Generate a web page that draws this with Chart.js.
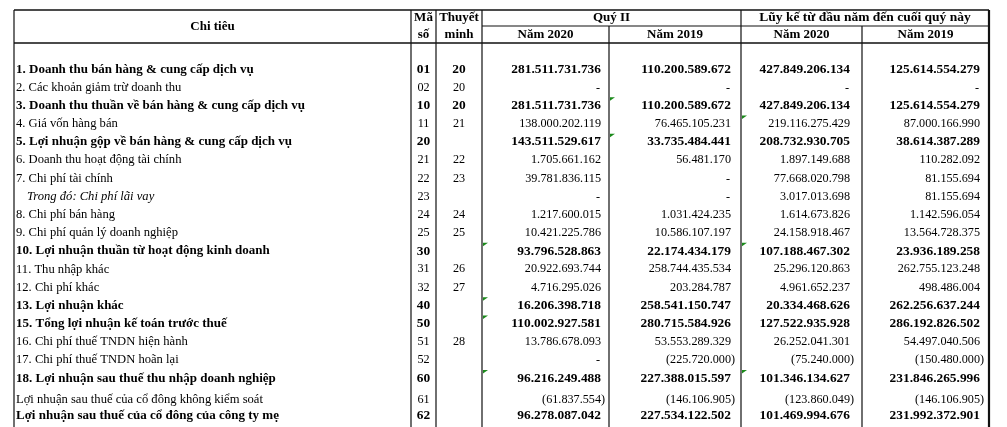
<!DOCTYPE html>
<html>
<head>
<meta charset="utf-8">
<script src="https://cdn.jsdelivr.net/npm/chart.js@4.4.0/dist/chart.umd.min.js"></script>
<style>
  html, body { margin: 0; padding: 0; background: #fff; }
  #wrap { width: 1007px; height: 427px; }
</style>
</head>
<body>
<div id="wrap"><canvas id="bangKQKD"></canvas></div>
<script>
// Chỉ tiêu (tên dòng)
const chiTieu = [
    '1. Doanh thu bán hàng & cung cấp dịch vụ',
    '2. Các khoản giảm trừ doanh thu',
    '3. Doanh thu thuần về bán hàng & cung cấp dịch vụ',
    '4. Giá vốn hàng bán',
    '5. Lợi nhuận gộp về bán hàng & cung cấp dịch vụ',
    '6. Doanh thu hoạt động tài chính',
    '7. Chi phí tài chính',
    'Trong đó: Chi phí lãi vay',
    '8. Chi phí bán hàng',
    '9. Chi phí quản lý doanh nghiệp',
    '10. Lợi nhuận thuần từ hoạt động kinh doanh',
    '11. Thu nhập khác',
    '12. Chi phí khác',
    '13. Lợi nhuận khác',
    '15. Tổng lợi nhuận kế toán trước thuế',
    '16. Chi phí thuế TNDN hiện hành',
    '17. Chi phí thuế TNDN hoãn lại',
    '18. Lợi nhuận sau thuế thu nhập doanh nghiệp',
    'Lợi nhuận sau thuế của cổ đông không kiểm soát',
    'Lợi nhuận sau thuế của cổ đông của công ty mẹ'
];
// b = đậm, n = thường, i = nghiêng
const kieuDong = ['b','n','b','n','b','n','n','i','n','n','b','n','n','b','b','n','n','b','n','b'];
const maSo = ['01','02','10','11','20','21','22','23','24','25','30','31','32','40','50','51','52','60','61','62'];
const thuyetMinh = ['20','20','20','21','','22','23','','24','25','','26','27','','','28','','','',''];

// Giá trị (null = "-")
const quy2Nam2020 = [281511731736, null, 281511731736, 138000202119, 143511529617, 1705661162, 39781836115, null,
    1217600015, 10421225786, 93796528863, 20922693744, 4716295026, 16206398718, 110002927581, 13786678093, null,
    96216249488, -61837554, 96278087042];
const quy2Nam2019 = [110200589672, null, 110200589672, 76465105231, 33735484441, 56481170, null, null,
    1031424235, 10586107197, 22174434179, 258744435534, 203284787, 258541150747, 280715584926, 53553289329, -225720000,
    227388015597, -146106905, 227534122502];
const luyKeNam2020 = [427849206134, null, 427849206134, 219116275429, 208732930705, 1897149688, 77668020798, 3017013698,
    1614673826, 24158918467, 107188467302, 25296120863, 4961652237, 20334468626, 127522935928, 26252041301, -75240000,
    101346134627, -123860049, 101469994676];
const luyKeNam2019 = [125614554279, null, 125614554279, 87000166990, 38614387289, 110282092, 81155694, 81155694,
    1142596054, 13564728375, 23936189258, 262755123248, 498486004, 262256637244, 286192826502, 54497040506, -150480000,
    231846265996, -146106905, 231992372901];

const tieuDeNhom = ['Quý II', 'Lũy kế từ đầu năm đến cuối quý này'];
const tieuDeNam = ['Năm 2020', 'Năm 2019', 'Năm 2020', 'Năm 2019'];

// Ô có dấu tam giác xanh (dòng, cột giá trị)
const oDanhDau = [[2, 1], [3, 2], [4, 1], [10, 0], [10, 2], [13, 0], [14, 0], [17, 0], [17, 2]];

// Bố cục
const canhCot = [14, 411, 436, 482, 609, 741, 862, 989];
const lePhai = [8, 10, 12, 9];
const dongTieuDe = [10, 26, 43];
const batDauThan = 60.2;
const caoDong = chiTieu.map((_, i) => i < 18 ? 18.18 : (i === 18 ? 21 : 16.4));
const FONT = '"Liberation Serif", "Times New Roman", serif';

const dayDong = [];
let yTam = batDauThan;
caoDong.forEach(h => { yTam += h; dayDong.push(yTam - 9.1); });

function dinhDang(v) {
    if (v === null) return '-';
    return Math.abs(v).toString().replace(/\B(?=(\d{3})+(?!\d))/g, '.');
}

const cotGiaTri = [quy2Nam2020, quy2Nam2019, luyKeNam2020, luyKeNam2019];

const datasets = cotGiaTri.map((arr, c) => ({
    label: 'cot' + c,
    data: arr.map((v, i) => ({ x: canhCot[c + 4] - lePhai[c], y: dayDong[i] })),
    pointRadius: 0,
    showLine: false
}));

function fontDong(k, size) {
    if (k === 'b') return 'bold ' + size + 'px ' + FONT;
    if (k === 'i') return 'italic ' + size + 'px ' + FONT;
    return size + 'px ' + FONT;
}

const veBang = {
    id: 'veBang',
    beforeDatasetsDraw(chart) {
        const ctx = chart.ctx;
        const xs = chart.scales.x, ys = chart.scales.y;
        const px = v => xs.getPixelForValue(v);
        const py = v => ys.getPixelForValue(v);
        const day = py(427);
        ctx.save();
        ctx.strokeStyle = '#111';
        ctx.lineWidth = 1.6;
        ctx.beginPath();
        ctx.moveTo(px(canhCot[0]), py(dongTieuDe[0]));
        ctx.lineTo(px(canhCot[7]), py(dongTieuDe[0]));
        ctx.moveTo(px(canhCot[0]), py(dongTieuDe[2]));
        ctx.lineTo(px(canhCot[7]), py(dongTieuDe[2]));
        ctx.stroke();
        ctx.lineWidth = 1.2;
        ctx.beginPath();
        ctx.moveTo(px(canhCot[3]), py(dongTieuDe[1]));
        ctx.lineTo(px(canhCot[7]), py(dongTieuDe[1]));
        [0, 1, 2, 3, 5].forEach(c => {
            ctx.moveTo(px(canhCot[c]), py(dongTieuDe[0]));
            ctx.lineTo(px(canhCot[c]), day);
        });
        [4, 6].forEach(c => {
            ctx.moveTo(px(canhCot[c]), py(dongTieuDe[1]));
            ctx.lineTo(px(canhCot[c]), day);
        });
        ctx.stroke();
        ctx.lineWidth = 2.2;
        ctx.beginPath();
        ctx.moveTo(px(canhCot[7]), py(dongTieuDe[0]));
        ctx.lineTo(px(canhCot[7]), day);
        ctx.stroke();

        // tam giác xanh ở góc trên trái ô
        ctx.fillStyle = '#1b8a1b';
        oDanhDau.forEach(([r, c]) => {
            const x = px(canhCot[c + 3]) + 1;
            const y = py(dayDong[r] - 9.1 + 0.8);
            ctx.beginPath();
            ctx.moveTo(x, y);
            ctx.lineTo(x + 5, y);
            ctx.lineTo(x, y + 3.5);
            ctx.closePath();
            ctx.fill();
        });
        ctx.restore();
    },
    afterDatasetsDraw(chart) {
        const ctx = chart.ctx;
        const xs = chart.scales.x, ys = chart.scales.y;
        const px = v => xs.getPixelForValue(v);
        const py = v => ys.getPixelForValue(v);
        ctx.save();
        ctx.fillStyle = '#000';
        ctx.textBaseline = 'middle';

        // tiêu đề
        ctx.font = 'bold 13px ' + FONT;
        ctx.textAlign = 'center';
        const yMid = py((dongTieuDe[0] + dongTieuDe[2]) / 2);
        const y1 = py((dongTieuDe[0] + dongTieuDe[1]) / 2);
        const y2 = py((dongTieuDe[1] + dongTieuDe[2]) / 2);
        ctx.fillText('Chi tiêu', px((canhCot[0] + canhCot[1]) / 2), yMid);
        ctx.fillText('Mã', px((canhCot[1] + canhCot[2]) / 2), y1);
        ctx.fillText('số', px((canhCot[1] + canhCot[2]) / 2), y2);
        ctx.fillText('Thuyết', px((canhCot[2] + canhCot[3]) / 2), y1);
        ctx.fillText('minh', px((canhCot[2] + canhCot[3]) / 2), y2);
        ctx.fillText(tieuDeNhom[0], px((canhCot[3] + canhCot[5]) / 2), y1);
        tieuDeNam.forEach((t, c) => {
            ctx.fillText(t, px((canhCot[c + 3] + canhCot[c + 4]) / 2), y2);
        });
        ctx.font = 'bold 13.5px ' + FONT;
        ctx.fillText(tieuDeNhom[1], px((canhCot[5] + canhCot[7]) / 2), y1);

        // cột chỉ tiêu, mã số, thuyết minh
        chiTieu.forEach((t, i) => {
            const k = kieuDong[i];
            const y = py(dayDong[i]);
            ctx.font = fontDong(k, k === 'b' ? 13 : 12.6);
            ctx.textAlign = 'left';
            ctx.fillText(t, px(canhCot[0] + (k === 'i' ? 13 : 2)), y);
            ctx.font = fontDong(k === 'b' ? 'b' : 'n', k === 'b' ? 13.4 : 12.2);
            ctx.textAlign = 'center';
            ctx.fillText(maSo[i], px((canhCot[1] + canhCot[2]) / 2), y);
            if (thuyetMinh[i]) ctx.fillText(thuyetMinh[i], px((canhCot[2] + canhCot[3]) / 2), y);
        });

        // cột giá trị, vẽ tại vị trí các điểm của dataset
        chart.data.datasets.forEach((ds, c) => {
            const meta = chart.getDatasetMeta(c);
            meta.data.forEach((pt, i) => {
                const v = cotGiaTri[c][i];
                const k = kieuDong[i];
                const size = k === 'b' ? 13.4 : 12.2;
                ctx.font = fontDong(k === 'b' ? 'b' : 'n', size);
                const s = dinhDang(v);
                if (v === null) {
                    ctx.textAlign = 'right';
                    ctx.fillText(s, pt.x - 1, pt.y);
                } else if (v < 0) {
                    ctx.textAlign = 'right';
                    ctx.fillText('(' + s, pt.x, pt.y);
                    ctx.textAlign = 'left';
                    ctx.fillText(')', pt.x, pt.y);
                } else {
                    ctx.textAlign = 'right';
                    ctx.fillText(s, pt.x, pt.y);
                }
            });
        });
        ctx.restore();
    }
};

new Chart(document.getElementById('bangKQKD'), {
    type: 'scatter',
    data: { datasets: datasets },
    options: {
        responsive: true,
        maintainAspectRatio: false,
        animation: false,
        events: [],
        layout: { padding: 0 },
        scales: {
            x: { type: 'linear', display: false, min: 0, max: 1007 },
            y: { type: 'linear', display: false, min: 0, max: 427, reverse: true }
        },
        plugins: {
            legend: { display: false },
            tooltip: { enabled: false }
        }
    },
    plugins: [veBang]
});
</script>
</body>
</html>
